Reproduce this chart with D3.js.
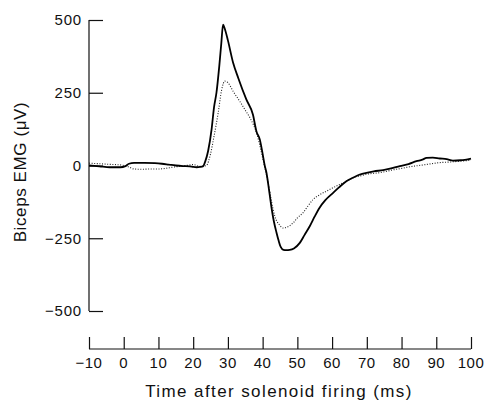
<!DOCTYPE html>
<html><head><meta charset="utf-8">
<script src="https://cdn.jsdelivr.net/npm/d3@7"></script>
<style>body{margin:0;background:#fff}svg{display:block}text{font-family:"Liberation Sans",Arial,sans-serif;fill:#111}</style>
</head><body><svg id="c" width="487" height="400"></svg>
<script>
const xTicks = [-10,0,10,20,30,40,50,60,70,80,90,100];
const yTicks = [500,250,0,-250,-500];
const xTitle = "Time after solenoid firing (ms)";
const yTitle = "Biceps EMG (\u03BCV)";
// solid trace
const solidT = [-10,-7,-4,-1,0.5,1.5,3,6,9,11,13,15,17,19,20,21,22,22.8,23.5,24.3,25.3,26,26.7,27.5,28.1,28.6,29.1,30,31.5,33,35.3,37.2,38.2,39.2,40,40.6,41.1,41.8,42.5,43.2,44,44.6,45.2,46,46.8,47.8,49,50.7,52,53.6,55,56.4,58,60.3,62,64.1,66,68,69.9,72,74.7,77,79.5,82,84.3,86,87.2,89,91,93,94.8,97,100];
const solidV = [0,-3,-6,-6,-2,6,9,9,8,6,3,0,-2,-3,-5,-6,-5,-3,15,50,124,200,250,340,420,484,470,430,353,300,227,175,118,89,40,0,-25,-80,-140,-190,-231,-258,-280,-290,-291,-290,-285,-266,-240,-208,-175,-145,-120,-94,-75,-54,-42,-31,-25,-20,-16,-10,-2,5,15,20,26,27,24,22,17,18,24];
// dotted trace
const dotT = [-10,-7,-4,-1,1,3,5,8,10,12,14,16,18,20,22,23.8,25,26,27.2,28.2,29.1,30,31.5,33.4,35,36.3,38.4,40.1,41.5,42.5,43.5,44.9,45.9,47,48.8,50,51.6,53,54.5,56.5,58.4,60,62.2,64,66,68,70,74,78,80,82,85,88,91,94,97,100];
const dotV = [8,6,4,2,-3,-12,-13,-12,-12,-10,-6,-3,0,3,-3,0,40,100,181,260,290,285,255,221,190,165,106,21,-54,-120,-174,-205,-215,-212,-197,-180,-163,-140,-117,-100,-88,-78,-65,-55,-42,-36,-30,-24,-14,-10,-5,0,5,10,12,15,18];

const svg = d3.select("#c");
const x = d3.scaleLinear().domain([-10,100]).range([89,471]);
const y = d3.scaleLinear().domain([-500,500]).range([311,20]);

// y axis
const yAx = svg.append("g").attr("transform","translate(89,0)")
  .call(d3.axisRight(y).tickValues(yTicks).tickSize(14).tickFormat(""));
yAx.select(".domain").attr("d","M0,20V311");
yAx.selectAll("line,path").attr("stroke","#111").attr("stroke-width",1.2);
svg.append("g").selectAll("text").data(yTicks).join("text")
  .attr("x",82).attr("y",d=>y(d)).attr("dy","0.36em").attr("text-anchor","end")
  .attr("font-size",15).attr("letter-spacing",0.8).text(d=>d<0?"\u2212"+Math.abs(d):d);

// x axis
const xAx = svg.append("g").attr("transform","translate(0,349)")
  .call(d3.axisTop(x).tickValues(xTicks).tickSize(12).tickFormat(""));
xAx.select(".domain").attr("d","M89,0H471");
xAx.selectAll("line,path").attr("stroke","#111").attr("stroke-width",1.2);
svg.append("g").selectAll("text").data(xTicks).join("text")
  .attr("x",d=>x(d)).attr("y",368).attr("text-anchor","middle")
  .attr("font-size",15).attr("letter-spacing",0.5).text(d=>d<0?"\u2212"+Math.abs(d):d);

svg.append("text").attr("x",279).attr("y",397).attr("text-anchor","middle")
  .attr("font-size",17).attr("letter-spacing",1.4).text(xTitle);
svg.append("text").attr("transform","translate(26,172) rotate(-90)").attr("text-anchor","middle")
  .attr("font-size",17).attr("letter-spacing",0.6).text(yTitle);

const line = d3.line().x(d=>x(d[0])).y(d=>y(d[1])).curve(d3.curveMonotoneX);
svg.append("path").datum(dotT.map((t,i)=>[t,dotV[i]])).attr("d",line)
  .attr("fill","none").attr("stroke","#222").attr("stroke-width",1.1).attr("stroke-dasharray","1,1.6");
svg.append("path").datum(solidT.map((t,i)=>[t,solidV[i]])).attr("d",line)
  .attr("fill","none").attr("stroke","#000").attr("stroke-width",1.8);
</script></body></html>
